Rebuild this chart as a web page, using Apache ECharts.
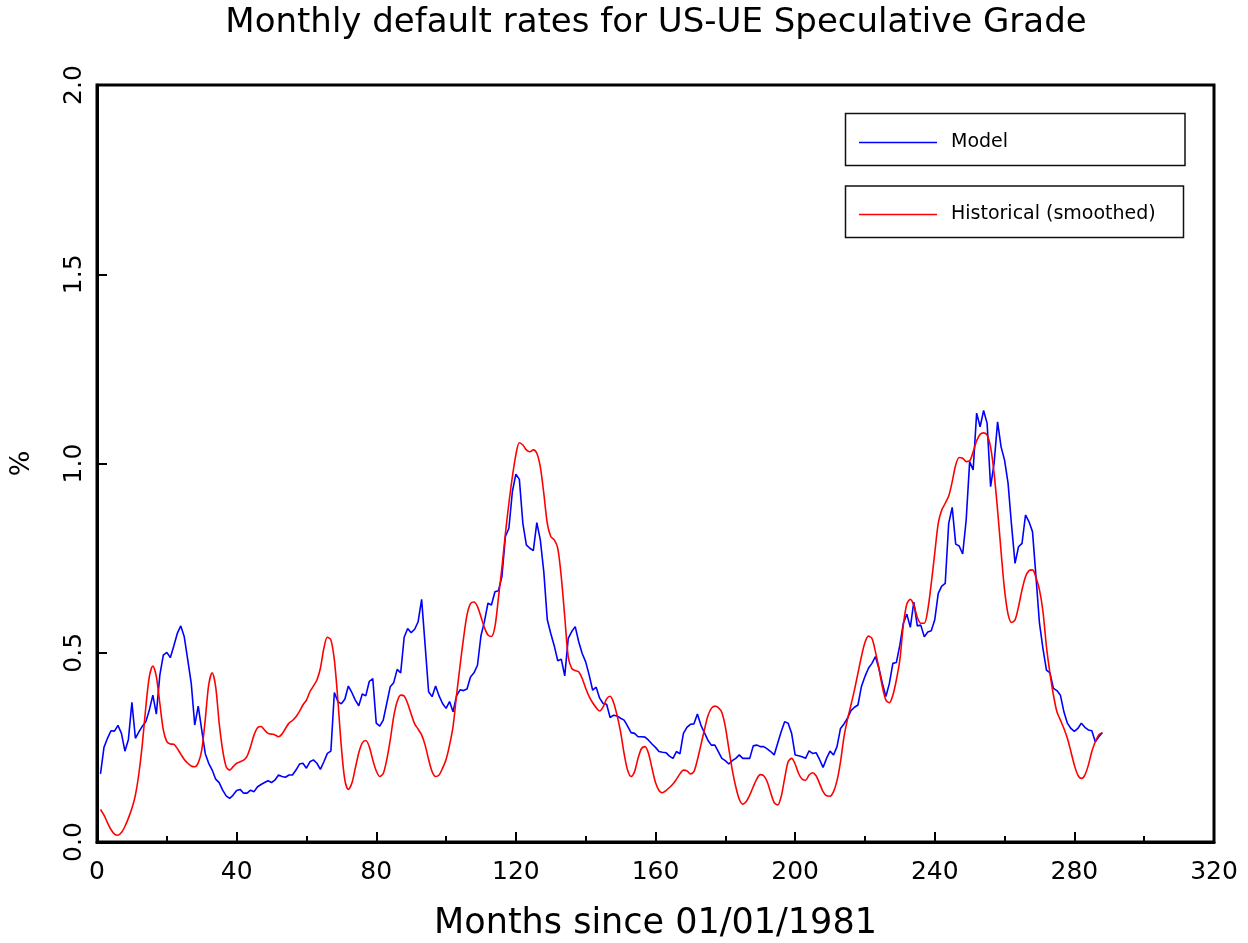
<!DOCTYPE html>
<html>
<head>
<meta charset="utf-8">
<script src="https://cdn.jsdelivr.net/npm/echarts@6/dist/echarts.min.js"></script>
<style>
html,body{margin:0;padding:0;background:#fff;}
#chart{width:1248px;height:943px;}
</style>
</head>
<body>
<div id="chart"></div>
<script>
const titleText = 'Monthly default rates for US-UE Speculative Grade';
const xAxisTitle = 'Months since 01/01/1981';
const yAxisTitle = '%';
const seriesNames = ['Model', 'Historical (smoothed)'];
const firstMonth = 1;

// Model (blue), months 1..288
const model = [
0.18,0.25,0.274,0.294,0.293,0.308,0.287,0.24,0.271,0.369,
0.274,0.291,0.306,0.318,0.349,0.388,0.338,0.441,0.494,0.501,
0.487,0.518,0.551,0.571,0.542,0.481,0.419,0.309,0.359,0.296,
0.234,0.208,0.19,0.166,0.157,0.137,0.122,0.115,0.124,0.136,
0.139,0.129,0.129,0.137,0.133,0.146,0.152,0.157,0.162,0.157,
0.164,0.177,0.173,0.171,0.177,0.177,0.19,0.206,0.208,0.195,
0.212,0.217,0.208,0.192,0.212,0.234,0.24,0.395,0.371,0.365,
0.377,0.412,0.395,0.375,0.36,0.391,0.386,0.424,0.432,0.314,
0.306,0.322,0.366,0.41,0.421,0.456,0.447,0.541,0.564,0.553,
0.562,0.582,0.641,0.52,0.397,0.384,0.412,0.386,0.366,0.353,
0.371,0.344,0.386,0.402,0.4,0.404,0.436,0.447,0.467,0.545,
0.583,0.631,0.626,0.661,0.664,0.701,0.807,0.829,0.926,0.972,
0.958,0.842,0.785,0.776,0.77,0.844,0.798,0.714,0.587,0.551,
0.518,0.479,0.483,0.439,0.538,0.556,0.569,0.529,0.498,0.476,
0.441,0.401,0.409,0.38,0.366,0.364,0.329,0.335,0.333,0.327,
0.322,0.306,0.289,0.287,0.278,0.278,0.277,0.269,0.259,0.25,
0.239,0.237,0.236,0.227,0.221,0.239,0.233,0.287,0.303,0.311,
0.312,0.338,0.309,0.289,0.269,0.256,0.256,0.239,0.221,0.215,
0.206,0.215,0.221,0.23,0.221,0.221,0.221,0.254,0.256,0.252,
0.252,0.246,0.239,0.23,0.261,0.291,0.318,0.314,0.287,0.23,
0.228,0.225,0.221,0.241,0.234,0.236,0.218,0.197,0.221,0.24,
0.23,0.252,0.3,0.312,0.327,0.347,0.356,0.362,0.411,0.437,
0.459,0.472,0.49,0.459,0.419,0.384,0.419,0.472,0.474,0.52,
0.578,0.602,0.567,0.634,0.571,0.573,0.542,0.555,0.558,0.587,
0.657,0.676,0.683,0.842,0.884,0.787,0.782,0.761,0.85,1.005,
0.983,1.133,1.097,1.14,1.106,0.939,1.0,1.11,1.044,1.009,
0.948,0.837,0.736,0.78,0.789,0.864,0.846,0.82,0.701,0.578,
0.511,0.454,0.447,0.406,0.4,0.388,0.344,0.314,0.3,0.292,
0.3,0.314,0.303,0.296,0.294,0.265,0.278,0.289
];

// Historical smoothed (red), months 1..288
const historical = [
0.086,0.071,0.051,0.033,0.021,0.018,0.025,0.041,0.063,0.089,
0.124,0.181,0.26,0.358,0.437,0.465,0.437,0.366,0.296,0.265,
0.259,0.258,0.247,0.232,0.218,0.208,0.201,0.199,0.209,0.243,
0.322,0.415,0.447,0.41,0.314,0.243,0.199,0.19,0.199,0.208,
0.212,0.216,0.227,0.252,0.283,0.302,0.305,0.296,0.287,0.285,
0.283,0.278,0.285,0.3,0.314,0.321,0.331,0.345,0.362,0.375,
0.397,0.412,0.428,0.459,0.512,0.541,0.534,0.481,0.375,0.252,
0.164,0.139,0.155,0.195,0.236,0.262,0.268,0.252,0.217,0.188,
0.173,0.181,0.217,0.269,0.331,0.371,0.388,0.386,0.366,0.338,
0.312,0.298,0.283,0.256,0.218,0.186,0.173,0.177,0.195,0.218,
0.256,0.305,0.388,0.465,0.538,0.6,0.63,0.634,0.622,0.595,
0.566,0.547,0.543,0.569,0.645,0.725,0.815,0.895,0.965,1.023,
1.055,1.049,1.036,1.031,1.036,1.027,0.991,0.921,0.842,0.807,
0.798,0.776,0.701,0.595,0.489,0.459,0.453,0.45,0.432,0.406,
0.384,0.368,0.355,0.346,0.357,0.378,0.385,0.368,0.334,0.291,
0.234,0.19,0.173,0.186,0.221,0.247,0.252,0.234,0.195,0.157,
0.136,0.13,0.136,0.144,0.153,0.166,0.18,0.19,0.188,0.18,
0.186,0.217,0.256,0.296,0.333,0.353,0.359,0.355,0.342,0.305,
0.247,0.19,0.146,0.113,0.1,0.107,0.124,0.146,0.166,0.178,
0.175,0.159,0.13,0.104,0.098,0.12,0.168,0.212,0.221,0.206,
0.181,0.166,0.163,0.177,0.183,0.175,0.155,0.133,0.122,0.121,
0.133,0.162,0.212,0.278,0.324,0.362,0.402,0.446,0.49,0.527,
0.544,0.538,0.503,0.459,0.41,0.375,0.368,0.388,0.428,0.481,
0.573,0.629,0.641,0.626,0.594,0.578,0.578,0.613,0.683,0.763,
0.842,0.877,0.895,0.914,0.952,0.996,1.016,1.014,1.005,1.007,
1.031,1.06,1.077,1.081,1.075,1.043,0.974,0.877,0.767,0.666,
0.602,0.58,0.587,0.622,0.666,0.701,0.717,0.719,0.699,0.666,
0.609,0.516,0.446,0.388,0.344,0.322,0.3,0.274,0.239,0.203,
0.177,0.168,0.177,0.203,0.239,0.265,0.283,0.289
];

const xTicks = [0, 40, 80, 120, 160, 200, 240, 280, 320];
const yTicks = [0, 0.5, 1.0, 1.5, 2.0];

const FONT = 'DejaVu Sans';
const chart = echarts.init(document.getElementById('chart'), null, {renderer: 'canvas'});

const toPairs = arr => arr.map((v, i) => [firstMonth + i, v]);

const legendCommon = {
  padding: 0, icon: 'rect', itemWidth: 78, itemHeight: 1.6,
  textStyle: {fontFamily: FONT, fontSize: 19, color: '#000', padding: [0, 0, 0, 9]}
};

chart.setOption({
  animation: false,
  backgroundColor: '#fff',
  title: {
    text: titleText,
    left: 656,
    textAlign: 'center',
    top: 6,
    padding: 0,
    textStyle: {fontFamily: FONT, fontSize: 34, fontWeight: 'normal', color: '#000'}
  },
  grid: {
    left: 97, top: 85, width: 1117, height: 757,
    outerBoundsMode: 'none', containLabel: false,
    show: true, borderColor: '#000', borderWidth: 3, backgroundColor: 'transparent'
  },
  legend: [
    Object.assign({data: [seriesNames[0]], left: 859, top: 133}, legendCommon),
    Object.assign({data: [seriesNames[1]], left: 859, top: 205}, legendCommon)
  ],
  graphic: [
    {type: 'rect', shape: {x: 845.5, y: 113.5, width: 339.5, height: 52}, style: {fill: 'none', stroke: '#111', lineWidth: 1.5}, z: 10},
    {type: 'rect', shape: {x: 845.5, y: 186, width: 338, height: 51.5}, style: {fill: 'none', stroke: '#111', lineWidth: 1.5}, z: 10}
  ],
  xAxis: {
    type: 'value', min: xTicks[0], max: xTicks[xTicks.length - 1], interval: 40,
    name: xAxisTitle, nameLocation: 'middle', nameGap: 64,
    nameTextStyle: {fontFamily: FONT, fontSize: 35, color: '#000'},
    axisLine: {show: true, lineStyle: {color: '#000', width: 3}},
    axisTick: {show: true, inside: true, length: 10, lineStyle: {color: '#000', width: 2}},
    minorTick: {show: true, splitNumber: 2, length: 6, lineStyle: {color: '#000', width: 2}},
    axisLabel: {fontFamily: FONT, fontSize: 25, color: '#000', margin: 18},
    splitLine: {show: false}
  },
  yAxis: {
    type: 'value', min: yTicks[0], max: yTicks[yTicks.length - 1], interval: 0.5,
    name: yAxisTitle, nameLocation: 'middle', nameGap: 62, nameRotate: 90,
    nameTextStyle: {fontFamily: FONT, fontSize: 27, color: '#000'},
    axisLine: {show: true, lineStyle: {color: '#000', width: 3}},
    axisTick: {show: true, inside: true, length: 10, lineStyle: {color: '#000', width: 2}},
    axisLabel: {fontFamily: FONT, fontSize: 25, color: '#000', rotate: 90, margin: 10,
      formatter: v => v.toFixed(1)},
    splitLine: {show: false}
  },
  series: [
    {
      name: seriesNames[0], type: 'line', data: toPairs(model),
      symbol: 'none', lineStyle: {color: '#0000ff', width: 1.6}, itemStyle: {color: '#0000ff'}
    },
    {
      name: seriesNames[1], type: 'line', data: toPairs(historical),
      symbol: 'none', smooth: 0.3, lineStyle: {color: '#ff0000', width: 1.6}, itemStyle: {color: '#ff0000'}
    }
  ]
});
</script>
</body>
</html>
